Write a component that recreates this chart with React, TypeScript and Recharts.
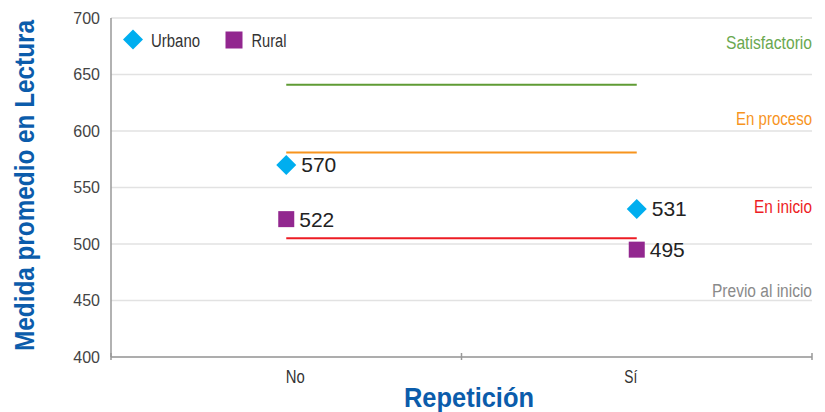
import React from 'react';
import { ScatterChart, Scatter, XAxis, YAxis, CartesianGrid, ReferenceLine, Legend, LabelList } from 'recharts';

const categories = ['No', 'Sí'];
const categoryLabelWidths = [19, 13];
const urbano = [570, 531];
const rural = [522, 495];
const seriesNames = ['Urbano', 'Rural'];
const legendLabelWidths = [49, 35];
const thresholdValues = [641, 581, 505];
const thresholdColors = ['#5f9b34', '#f7941d', '#ed1c24'];
const levelNames = ['Satisfactorio', 'En proceso', 'En inicio', 'Previo al inicio'];
const levelLabelWidths = [86, 76, 58, 100];
const levelLabelValues = [678, 611, 533, 458];
const levelColors = ['#6aa84f', '#f7941d', '#ed1c24', '#8a8a8a'];
const yTicks = [400, 450, 500, 550, 600, 650, 700];

const FONT = "'Liberation Sans', Arial, sans-serif";
const BLUE = '#0b5cab';
const CYAN = '#00aeef';
const PURPLE = '#92278f';

const urbanoData = categories.map((c, i) => ({ x: i + 0.5, y: urbano[i], cat: c }));
const ruralData = categories.map((c, i) => ({ x: i + 0.5, y: rural[i], cat: c }));

const xTicks: number[] = [];
for (let i = 0; i <= categories.length; i++) {
  xTicks.push(i);
  if (i < categories.length) xTicks.push(i + 0.5);
}

const Diamond = (props: any) => {
  const { cx, cy, fill } = props;
  const r = 10;
  return <polygon points={`${cx},${cy - r} ${cx + r},${cy} ${cx},${cy + r} ${cx - r},${cy}`} fill={fill} />;
};
const Square = (props: any) => {
  const { cx, cy, fill } = props;
  const s = 16;
  return <rect x={cx - s / 2} y={cy - s / 2} width={s} height={s} fill={fill} />;
};

const XTick = (props: any) => {
  const { x, y, payload } = props;
  const v = payload.value;
  if (Number.isInteger(v)) {
    return <line x1={x} x2={x} y1={y - 4} y2={y + 3} stroke="#999" strokeWidth={1.5} />;
  }
  const idx = Math.floor(v);
  return (
    <text
      x={x + (idx === 0 ? 9 : -6)}
      y={y + 26}
      textAnchor="middle"
      fontFamily={FONT}
      fontSize={18}
      fill="#333"
      textLength={categoryLabelWidths[idx]}
      lengthAdjust="spacingAndGlyphs"
    >
      {categories[idx]}
    </text>
  );
};

const YTick = (props: any) => {
  const { x, y, payload } = props;
  return (
    <text x={x - 11} y={y} dy={5.5} textAnchor="end" fontFamily={FONT} fontSize={16} fill="#444">
      {payload.value}
    </text>
  );
};

const makeValueLabel = (dx: number) => (props: any) => {
  const { x, y, width, height, value } = props;
  const cx = x + (width || 0) / 2;
  const cy = y + (height || 0) / 2;
  return (
    <text x={cx + dx} y={cy} dy={7.5} fontFamily={FONT} fontSize={21} fill="#222">
      {value}
    </text>
  );
};

const renderLegend = (props: any) => {
  const payload = [...(props.payload || [])].sort(
    (a: any, b: any) => seriesNames.indexOf(a.value) - seriesNames.indexOf(b.value)
  );
  return (
    <svg width={220} height={24} style={{ display: 'block' }}>
      {payload.map((p: any, i: number) => {
        const ox = i * 100.5;
        const isUrbano = p.value === seriesNames[0];
        return (
          <g key={i}>
            {isUrbano ? (
              <polygon
                points={`${ox + 11},${0.5} ${ox + 21},${10.5} ${ox + 11},${20.5} ${ox + 1},${10.5}`}
                fill={p.color}
              />
            ) : (
              <rect x={ox + 3} y={2.5} width={17} height={17} fill={p.color} />
            )}
            <text
              x={ox + 29}
              y={17.5}
              fontFamily={FONT}
              fontSize={18}
              fill="#333"
              textLength={legendLabelWidths[seriesNames.indexOf(p.value)]}
              lengthAdjust="spacingAndGlyphs"
            >
              {p.value}
            </text>
          </g>
        );
      })}
    </svg>
  );
};

const LevelLabel = (props: any) => {
  const { viewBox, value, fill, w } = props;
  const right = viewBox.x + viewBox.width;
  return (
    <text
      x={right}
      y={viewBox.y}
      dy={6}
      textAnchor="end"
      fontFamily={FONT}
      fontSize={18}
      fill={fill}
      textLength={w}
      lengthAdjust="spacingAndGlyphs"
    >
      {value}
    </text>
  );
};

const YTitle = () => {
  return (
    <text
      x={34}
      y={185.5}
      transform="rotate(-90 34 185.5)"
      textAnchor="middle"
      fontFamily={FONT}
      fontWeight="bold"
      fontSize={27}
      fill={BLUE}
      textLength={331}
      lengthAdjust="spacingAndGlyphs"
    >
      Medida promedio en Lectura
    </text>
  );
};

const XTitle = () => {
  return (
    <text
      x={469}
      y={407}
      textAnchor="middle"
      fontFamily={FONT}
      fontWeight="bold"
      fontSize={28}
      fill={BLUE}
      textLength={130}
      lengthAdjust="spacingAndGlyphs"
    >
      Repetición
    </text>
  );
};

export default function App() {
  return (
    <div style={{ position: 'absolute', left: 0, top: 0 }}>
      <ScatterChart width={825} height={412} margin={{ top: 18, right: 13, bottom: 0, left: 0 }}>
        <CartesianGrid vertical={false} stroke="#e2e2e2" strokeWidth={1.5} />
        <XAxis
          type="number"
          dataKey="x"
          domain={[0, categories.length]}
          ticks={xTicks}
          interval={0}
          tick={<XTick />}
          tickLine={false}
          tickSize={0}
          tickMargin={0}
          height={55}
          stroke="#999"
          strokeWidth={1.5}
          label={<XTitle />}
          allowDataOverflow
        />
        <YAxis
          type="number"
          dataKey="y"
          domain={[400, 700]}
          ticks={yTicks}
          interval={0}
          tick={<YTick />}
          tickLine={false}
          tickSize={0}
          tickMargin={0}
          width={111}
          stroke="#999"
          strokeWidth={1.5}
          label={<YTitle />}
          allowDataOverflow
        />
        {thresholdValues.map((v, i) => (
          <ReferenceLine
            key={'t' + i}
            segment={[{ x: 0.5, y: v }, { x: 1.5, y: v }]}
            stroke={thresholdColors[i]}
            strokeWidth={2}
          />
        ))}
        {levelNames.map((n, i) => (
          <ReferenceLine
            key={'l' + i}
            y={levelLabelValues[i]}
            stroke="none"
            label={<LevelLabel value={n} fill={levelColors[i]} w={levelLabelWidths[i]} />}
          />
        ))}
        <Legend
          content={renderLegend}
          layout="vertical"
          align="center"
          verticalAlign="middle"
          wrapperStyle={{ position: 'absolute', top: 29, left: 122, width: 220, height: 24 }}
        />
        <Scatter name="Urbano" data={urbanoData} fill={CYAN} shape={<Diamond />} isAnimationActive={false}>
          <LabelList dataKey="y" content={makeValueLabel(15)} />
        </Scatter>
        <Scatter name="Rural" data={ruralData} fill={PURPLE} shape={<Square />} isAnimationActive={false}>
          <LabelList dataKey="y" content={makeValueLabel(13)} />
        </Scatter>
      </ScatterChart>
    </div>
  );
}
